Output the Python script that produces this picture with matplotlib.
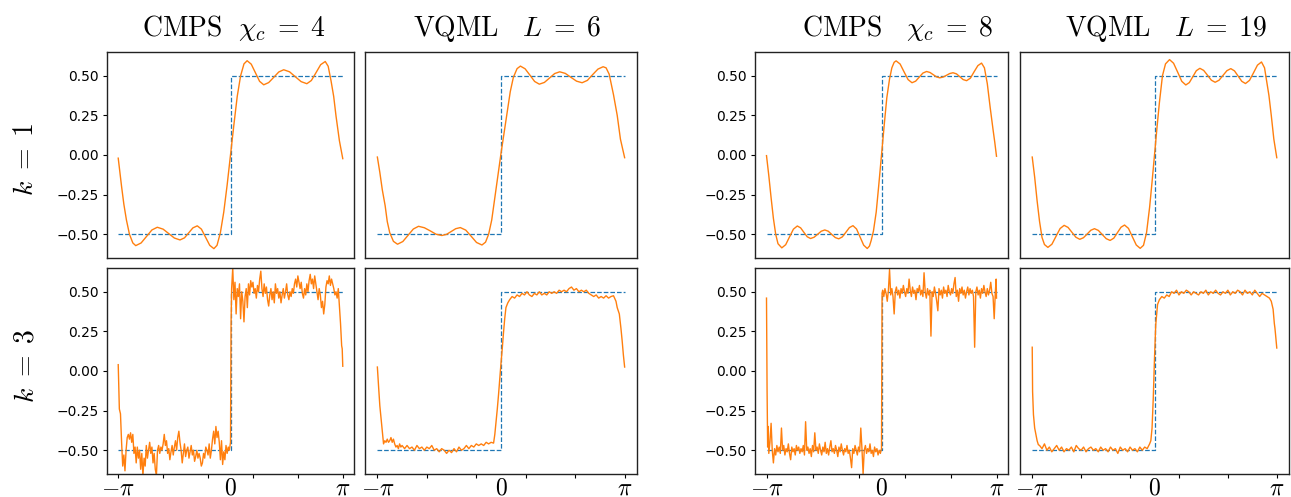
import numpy as np
import matplotlib
matplotlib.use('Agg')
import matplotlib.pyplot as plt

plt.rcParams['mathtext.fontset'] = 'cm'

# x values are in units of pi
step_x = [-1.0, 0.0, 0.0, 1.0]
step_y = [-0.5, -0.5, 0.5, 0.5]

titles = [r'$\mathrm{CMPS}\ \ \chi_c\;=\;4$', r'$\mathrm{VQML}\quad L\;=\;6$',
          r'$\mathrm{CMPS}\ \ \ \chi_c\;=\;8$', r'$\mathrm{VQML}\quad L\;=\;19$']
row_labels = [r'$k\;=\;1$', r'$k\;=\;3$']
ytick_vals = [-0.5, -0.25, 0.0, 0.25, 0.5]
xtick_labels = [r'$-\pi$', r'$0$', r'$\pi$']

cmps4_k1 = [(-1.0, -0.02), (-0.985, -0.11), (-0.97, -0.20), (-0.95, -0.31), (-0.927, -0.41),
            (-0.90, -0.50), (-0.87, -0.555), (-0.844, -0.572), (-0.796, -0.555), (-0.748, -0.514),
            (-0.70, -0.473), (-0.652, -0.456), (-0.60, -0.468), (-0.55, -0.496), (-0.50, -0.524),
            (-0.45, -0.536), (-0.41, -0.523), (-0.373, -0.492), (-0.335, -0.46), (-0.296, -0.447),
            (-0.259, -0.468), (-0.222, -0.519), (-0.185, -0.57), (-0.148, -0.591), (-0.12, -0.57),
            (-0.09, -0.49), (-0.06, -0.36), (-0.03, -0.19), (0.0, 0.0), (0.03, 0.19),
            (0.06, 0.37), (0.09, 0.50), (0.12, 0.575), (0.148, 0.595), (0.185, 0.573),
            (0.222, 0.519), (0.259, 0.465), (0.296, 0.443), (0.34, 0.457), (0.385, 0.49),
            (0.43, 0.524), (0.474, 0.538), (0.526, 0.525), (0.577, 0.494), (0.629, 0.463),
            (0.68, 0.45), (0.72, 0.47), (0.762, 0.52), (0.803, 0.57), (0.844, 0.59),
            (0.87, 0.56), (0.895, 0.47), (0.919, 0.37), (0.94, 0.245), (0.97, 0.09),
            (1.0, -0.023)]

vqml6_k1 = [(-1.0, -0.013), (-0.98, -0.11), (-0.96, -0.22), (-0.937, -0.32), (-0.92, -0.42),
            (-0.90, -0.49), (-0.87, -0.545), (-0.837, -0.563), (-0.794, -0.546), (-0.752, -0.507),
            (-0.709, -0.467), (-0.667, -0.45), (-0.62, -0.459), (-0.572, -0.479), (-0.525, -0.50),
            (-0.478, -0.508), (-0.441, -0.501), (-0.403, -0.483), (-0.366, -0.465), (-0.329, -0.458),
            (-0.285, -0.474), (-0.241, -0.513), (-0.198, -0.552), (-0.154, -0.568), (-0.125, -0.55),
            (-0.10, -0.50), (-0.075, -0.41), (-0.05, -0.27), (-0.025, -0.13), (0.0, 0.01),
            (0.025, 0.14), (0.05, 0.27), (0.075, 0.40), (0.10, 0.49), (0.13, 0.545),
            (0.157, 0.561), (0.195, 0.544), (0.234, 0.504), (0.272, 0.464), (0.31, 0.447),
            (0.351, 0.458), (0.393, 0.486), (0.434, 0.514), (0.475, 0.525), (0.52, 0.515),
            (0.566, 0.49), (0.611, 0.466), (0.656, 0.456), (0.699, 0.471), (0.741, 0.507),
            (0.784, 0.542), (0.826, 0.557), (0.85, 0.55), (0.875, 0.51), (0.91, 0.38),
            (0.94, 0.25), (0.966, 0.10), (1.0, -0.017)]

cmps8_k1 = [(-1.0, -0.004), (-0.98, -0.13), (-0.96, -0.27), (-0.94, -0.40), (-0.92, -0.50),
            (-0.90, -0.56), (-0.867, -0.586), (-0.833, -0.566), (-0.80, -0.517), (-0.766, -0.468),
            (-0.732, -0.448), (-0.703, -0.46), (-0.675, -0.488), (-0.646, -0.516), (-0.617, -0.527),
            (-0.586, -0.519), (-0.555, -0.50), (-0.524, -0.481), (-0.493, -0.473), (-0.463, -0.481),
            (-0.433, -0.501), (-0.402, -0.521), (-0.372, -0.529), (-0.341, -0.517), (-0.31, -0.488),
            (-0.279, -0.458), (-0.248, -0.446), (-0.217, -0.467), (-0.186, -0.518), (-0.155, -0.569),
            (-0.124, -0.59), (-0.105, -0.575), (-0.09, -0.54), (-0.07, -0.48), (-0.046, -0.36),
            (-0.025, -0.20), (0.0, 0.0), (0.025, 0.20), (0.046, 0.36), (0.07, 0.48),
            (0.09, 0.55), (0.11, 0.585), (0.127, 0.594), (0.162, 0.574), (0.196, 0.525),
            (0.231, 0.476), (0.265, 0.456), (0.297, 0.466), (0.329, 0.492), (0.36, 0.517),
            (0.392, 0.527), (0.421, 0.521), (0.45, 0.507), (0.478, 0.493), (0.507, 0.487),
            (0.536, 0.492), (0.565, 0.503), (0.593, 0.514), (0.622, 0.519), (0.652, 0.512),
            (0.681, 0.494), (0.71, 0.476), (0.74, 0.469), (0.773, 0.485), (0.805, 0.525),
            (0.838, 0.564), (0.87, 0.58), (0.895, 0.55), (0.92, 0.45), (0.945, 0.30),
            (0.97, 0.16), (0.985, 0.08), (1.0, -0.008)]

vqml19_k1 = [(-1.0, -0.013), (-0.98, -0.14), (-0.96, -0.29), (-0.94, -0.42), (-0.92, -0.52),
             (-0.90, -0.565), (-0.872, -0.583), (-0.839, -0.563), (-0.806, -0.514), (-0.772, -0.464),
             (-0.739, -0.444), (-0.707, -0.457), (-0.675, -0.488), (-0.643, -0.519), (-0.611, -0.532),
             (-0.581, -0.522), (-0.551, -0.499), (-0.521, -0.475), (-0.491, -0.465), (-0.459, -0.476),
             (-0.427, -0.502), (-0.395, -0.528), (-0.363, -0.539), (-0.333, -0.525), (-0.304, -0.491),
             (-0.274, -0.456), (-0.245, -0.442), (-0.213, -0.463), (-0.181, -0.516), (-0.149, -0.568),
             (-0.117, -0.589), (-0.09, -0.57), (-0.065, -0.49), (-0.04, -0.33), (-0.02, -0.17),
             (0.0, 0.0), (0.02, 0.17), (0.04, 0.33), (0.065, 0.50), (0.09, 0.575),
             (0.123, 0.602), (0.156, 0.579), (0.19, 0.522), (0.223, 0.465), (0.256, 0.442),
             (0.285, 0.457), (0.314, 0.495), (0.342, 0.532), (0.371, 0.547), (0.402, 0.534),
             (0.434, 0.503), (0.465, 0.472), (0.496, 0.459), (0.528, 0.472), (0.56, 0.502),
             (0.592, 0.532), (0.624, 0.545), (0.654, 0.531), (0.684, 0.498), (0.714, 0.465),
             (0.744, 0.451), (0.777, 0.471), (0.81, 0.519), (0.842, 0.567), (0.875, 0.587),
             (0.90, 0.55), (0.936, 0.375), (0.955, 0.25), (0.976, 0.10), (1.0, -0.017)]

cmps4_k3 = [(-1.00, 0.04), (-0.99, -0.24), (-0.98, -0.27), (-0.97, -0.45), (-0.96, -0.60),
            (-0.95, -0.53), (-0.94, -0.63), (-0.93, -0.50), (-0.92, -0.42), (-0.91, -0.40),
            (-0.90, -0.43), (-0.89, -0.39), (-0.88, -0.45), (-0.87, -0.40), (-0.86, -0.52),
            (-0.85, -0.48), (-0.84, -0.58), (-0.83, -0.48), (-0.82, -0.55), (-0.81, -0.50),
            (-0.80, -0.62), (-0.79, -0.52), (-0.78, -0.66), (-0.77, -0.55), (-0.76, -0.60),
            (-0.75, -0.47), (-0.74, -0.55), (-0.73, -0.50), (-0.72, -0.45), (-0.71, -0.52),
            (-0.70, -0.48), (-0.69, -0.58), (-0.68, -0.52), (-0.67, -0.62), (-0.66, -0.66),
            (-0.65, -0.50), (-0.64, -0.47), (-0.63, -0.52), (-0.62, -0.48), (-0.61, -0.50),
            (-0.60, -0.46), (-0.59, -0.40), (-0.58, -0.47), (-0.57, -0.44), (-0.56, -0.52),
            (-0.55, -0.49), (-0.54, -0.56), (-0.53, -0.51), (-0.52, -0.47), (-0.51, -0.53),
            (-0.50, -0.48), (-0.49, -0.44), (-0.48, -0.50), (-0.47, -0.42), (-0.46, -0.38),
            (-0.45, -0.45), (-0.44, -0.50), (-0.43, -0.58), (-0.42, -0.52), (-0.41, -0.46),
            (-0.40, -0.54), (-0.39, -0.50), (-0.38, -0.48), (-0.37, -0.55), (-0.36, -0.51),
            (-0.35, -0.47), (-0.34, -0.53), (-0.33, -0.50), (-0.32, -0.57), (-0.31, -0.54),
            (-0.30, -0.50), (-0.29, -0.55), (-0.28, -0.52), (-0.27, -0.55), (-0.26, -0.60),
            (-0.25, -0.58), (-0.24, -0.52), (-0.23, -0.55), (-0.22, -0.48), (-0.21, -0.50),
            (-0.20, -0.53), (-0.19, -0.46), (-0.18, -0.55), (-0.17, -0.50), (-0.16, -0.43),
            (-0.15, -0.38), (-0.14, -0.46), (-0.13, -0.35), (-0.12, -0.42), (-0.11, -0.38),
            (-0.10, -0.45), (-0.09, -0.56), (-0.08, -0.44), (-0.07, -0.59), (-0.06, -0.51),
            (-0.05, -0.56), (-0.04, -0.47), (-0.03, -0.52), (-0.02, -0.48), (-0.01, -0.50),
            (0.00, -0.45), (0.005, 0.30), (0.01, 0.52), (0.02, 0.65), (0.03, 0.45),
            (0.04, 0.56), (0.05, 0.36), (0.06, 0.52), (0.07, 0.47), (0.08, 0.55),
            (0.09, 0.33), (0.10, 0.50), (0.11, 0.44), (0.12, 0.31), (0.13, 0.47),
            (0.14, 0.52), (0.15, 0.40), (0.16, 0.55), (0.17, 0.48), (0.18, 0.57),
            (0.19, 0.53), (0.20, 0.56), (0.21, 0.49), (0.22, 0.52), (0.23, 0.46),
            (0.24, 0.54), (0.25, 0.50), (0.26, 0.58), (0.27, 0.63), (0.28, 0.52),
            (0.29, 0.47), (0.30, 0.55), (0.31, 0.49), (0.32, 0.53), (0.33, 0.45),
            (0.34, 0.41), (0.35, 0.48), (0.36, 0.52), (0.37, 0.45), (0.38, 0.50),
            (0.39, 0.43), (0.40, 0.55), (0.41, 0.49), (0.42, 0.52), (0.43, 0.46),
            (0.44, 0.50), (0.45, 0.43), (0.46, 0.48), (0.47, 0.52), (0.48, 0.46),
            (0.49, 0.50), (0.50, 0.55), (0.51, 0.48), (0.52, 0.45), (0.53, 0.50),
            (0.54, 0.47), (0.55, 0.52), (0.56, 0.49), (0.57, 0.55), (0.58, 0.58),
            (0.59, 0.53), (0.60, 0.60), (0.61, 0.56), (0.62, 0.52), (0.63, 0.56),
            (0.64, 0.49), (0.65, 0.46), (0.66, 0.52), (0.67, 0.48), (0.68, 0.55),
            (0.69, 0.50), (0.70, 0.57), (0.71, 0.61), (0.72, 0.55), (0.73, 0.58),
            (0.74, 0.52), (0.75, 0.60), (0.76, 0.55), (0.77, 0.50), (0.78, 0.45),
            (0.79, 0.52), (0.80, 0.48), (0.81, 0.40), (0.82, 0.44), (0.83, 0.36),
            (0.84, 0.42), (0.85, 0.53), (0.86, 0.57), (0.87, 0.55), (0.88, 0.60),
            (0.89, 0.54), (0.90, 0.58), (0.91, 0.55), (0.92, 0.52), (0.93, 0.48),
            (0.94, 0.50), (0.95, 0.46), (0.96, 0.52), (0.97, 0.41), (0.98, 0.30),
            (0.99, 0.16), (0.995, 0.14), (1.00, 0.03)]

vqml6_k3 = [(-1.00, 0.025), (-0.99, -0.10), (-0.98, -0.22), (-0.97, -0.30), (-0.96, -0.38),
            (-0.95, -0.46), (-0.94, -0.44), (-0.93, -0.45), (-0.92, -0.43), (-0.91, -0.45),
            (-0.90, -0.44), (-0.89, -0.42), (-0.88, -0.45), (-0.87, -0.43), (-0.86, -0.46),
            (-0.85, -0.48), (-0.84, -0.47), (-0.83, -0.49), (-0.82, -0.46), (-0.81, -0.48),
            (-0.80, -0.47), (-0.78, -0.49), (-0.76, -0.47), (-0.74, -0.49), (-0.72, -0.48),
            (-0.70, -0.50), (-0.68, -0.47), (-0.66, -0.49), (-0.64, -0.48), (-0.62, -0.50),
            (-0.60, -0.48), (-0.58, -0.49), (-0.56, -0.47), (-0.54, -0.50), (-0.52, -0.49),
            (-0.50, -0.51), (-0.48, -0.49), (-0.46, -0.50), (-0.44, -0.52), (-0.42, -0.50),
            (-0.40, -0.515), (-0.38, -0.49), (-0.36, -0.51), (-0.34, -0.48), (-0.32, -0.50),
            (-0.30, -0.49), (-0.28, -0.47), (-0.26, -0.49), (-0.24, -0.47), (-0.22, -0.48),
            (-0.20, -0.46), (-0.18, -0.47), (-0.16, -0.46), (-0.14, -0.47), (-0.12, -0.45),
            (-0.10, -0.46), (-0.08, -0.45), (-0.06, -0.455), (-0.05, -0.40), (-0.04, -0.32),
            (-0.03, -0.24), (-0.02, -0.15), (-0.01, -0.05), (0.00, 0.05), (0.01, 0.14),
            (0.02, 0.24), (0.03, 0.33), (0.04, 0.40), (0.055, 0.43), (0.07, 0.45),
            (0.09, 0.47), (0.11, 0.46), (0.13, 0.48), (0.15, 0.47), (0.17, 0.49),
            (0.19, 0.48), (0.21, 0.50), (0.23, 0.48), (0.25, 0.47), (0.27, 0.49),
            (0.29, 0.48), (0.31, 0.50), (0.33, 0.48), (0.35, 0.49), (0.37, 0.48),
            (0.39, 0.50), (0.41, 0.49), (0.43, 0.50), (0.45, 0.49), (0.47, 0.51),
            (0.49, 0.50), (0.51, 0.51), (0.53, 0.50), (0.55, 0.52), (0.57, 0.53),
            (0.59, 0.51), (0.61, 0.52), (0.63, 0.50), (0.65, 0.51), (0.67, 0.50),
            (0.69, 0.51), (0.71, 0.49), (0.73, 0.48), (0.75, 0.47), (0.77, 0.48),
            (0.79, 0.46), (0.81, 0.47), (0.83, 0.46), (0.85, 0.475), (0.87, 0.46),
            (0.89, 0.47), (0.91, 0.475), (0.93, 0.44), (0.94, 0.40), (0.957, 0.36),
            (0.97, 0.27), (0.98, 0.19), (0.99, 0.10), (1.00, 0.025)]

cmps8_k3 = [(-1.0, 0.46), (-0.995, -0.12), (-0.99, -0.48), (-0.985, -0.35), (-0.98, -0.52),
            (-0.97, -0.45), (-0.96, -0.33), (-0.95, -0.50), (-0.94, -0.58), (-0.93, -0.49),
            (-0.92, -0.53), (-0.91, -0.47), (-0.90, -0.51), (-0.89, -0.48), (-0.88, -0.52),
            (-0.87, -0.36), (-0.86, -0.50), (-0.85, -0.47), (-0.84, -0.53), (-0.83, -0.49),
            (-0.82, -0.51), (-0.81, -0.46), (-0.80, -0.52), (-0.79, -0.56), (-0.78, -0.48),
            (-0.77, -0.51), (-0.76, -0.49), (-0.75, -0.53), (-0.74, -0.47), (-0.73, -0.50),
            (-0.72, -0.48), (-0.71, -0.52), (-0.70, -0.49), (-0.69, -0.51), (-0.68, -0.47),
            (-0.67, -0.53), (-0.66, -0.32), (-0.65, -0.50), (-0.64, -0.48), (-0.63, -0.52),
            (-0.62, -0.49), (-0.61, -0.54), (-0.60, -0.47), (-0.59, -0.51), (-0.58, -0.39),
            (-0.57, -0.50), (-0.56, -0.48), (-0.55, -0.52), (-0.54, -0.46), (-0.53, -0.50),
            (-0.52, -0.53), (-0.51, -0.48), (-0.50, -0.51), (-0.49, -0.45), (-0.48, -0.52),
            (-0.47, -0.49), (-0.46, -0.53), (-0.45, -0.48), (-0.44, -0.44), (-0.43, -0.51),
            (-0.42, -0.49), (-0.41, -0.52), (-0.40, -0.47), (-0.39, -0.50), (-0.38, -0.54),
            (-0.37, -0.48), (-0.36, -0.51), (-0.35, -0.46), (-0.34, -0.50), (-0.33, -0.53),
            (-0.32, -0.49), (-0.31, -0.51), (-0.30, -0.47), (-0.29, -0.52), (-0.28, -0.50),
            (-0.27, -0.55), (-0.26, -0.61), (-0.25, -0.49), (-0.24, -0.52), (-0.23, -0.47),
            (-0.22, -0.50), (-0.21, -0.53), (-0.20, -0.48), (-0.19, -0.51), (-0.18, -0.36),
            (-0.17, -0.49), (-0.16, -0.65), (-0.15, -0.50), (-0.14, -0.47), (-0.13, -0.52),
            (-0.12, -0.49), (-0.11, -0.51), (-0.10, -0.46), (-0.09, -0.52), (-0.08, -0.50),
            (-0.07, -0.54), (-0.06, -0.48), (-0.05, -0.51), (-0.04, -0.49), (-0.03, -0.53),
            (-0.02, -0.50), (-0.01, -0.52), (0.00, -0.49), (0.005, 0.49), (0.01, 0.51),
            (0.02, 0.47), (0.03, 0.52), (0.04, 0.49), (0.05, 0.44), (0.06, 0.51),
            (0.07, 0.64), (0.08, 0.48), (0.09, 0.52), (0.10, 0.47), (0.11, 0.36),
            (0.12, 0.50), (0.13, 0.53), (0.14, 0.48), (0.15, 0.51), (0.16, 0.46),
            (0.17, 0.52), (0.18, 0.49), (0.19, 0.54), (0.20, 0.50), (0.21, 0.47),
            (0.22, 0.52), (0.23, 0.49), (0.24, 0.58), (0.25, 0.51), (0.26, 0.47),
            (0.27, 0.53), (0.28, 0.49), (0.29, 0.51), (0.30, 0.45), (0.31, 0.52),
            (0.32, 0.50), (0.33, 0.54), (0.34, 0.48), (0.35, 0.51), (0.36, 0.47),
            (0.37, 0.62), (0.38, 0.50), (0.39, 0.46), (0.40, 0.52), (0.41, 0.48),
            (0.42, 0.51), (0.43, 0.22), (0.44, 0.50), (0.45, 0.47), (0.46, 0.53),
            (0.47, 0.49), (0.48, 0.44), (0.49, 0.38), (0.50, 0.52), (0.51, 0.48),
            (0.52, 0.51), (0.53, 0.46), (0.54, 0.53), (0.55, 0.49), (0.56, 0.51),
            (0.57, 0.47), (0.58, 0.54), (0.59, 0.50), (0.60, 0.48), (0.61, 0.52),
            (0.62, 0.49), (0.63, 0.55), (0.64, 0.59), (0.65, 0.47), (0.66, 0.51),
            (0.67, 0.44), (0.68, 0.52), (0.69, 0.49), (0.70, 0.53), (0.71, 0.48),
            (0.72, 0.51), (0.73, 0.46), (0.74, 0.50), (0.75, 0.53), (0.76, 0.48),
            (0.77, 0.52), (0.78, 0.49), (0.79, 0.51), (0.80, 0.47), (0.81, 0.15),
            (0.82, 0.50), (0.83, 0.53), (0.84, 0.48), (0.85, 0.51), (0.86, 0.46),
            (0.87, 0.52), (0.88, 0.49), (0.89, 0.54), (0.90, 0.50), (0.91, 0.47),
            (0.92, 0.52), (0.93, 0.48), (0.94, 0.51), (0.95, 0.56), (0.96, 0.49),
            (0.97, 0.47), (0.98, 0.33), (0.99, 0.50), (0.997, 0.58), (1.00, 0.46)]

vqml19_k3 = [(-1.0, 0.15), (-0.997, -0.13), (-0.99, -0.275), (-0.98, -0.36), (-0.96, -0.44),
             (-0.95, -0.465), (-0.94, -0.47), (-0.92, -0.49), (-0.90, -0.46), (-0.88, -0.50),
             (-0.86, -0.48), (-0.84, -0.51), (-0.82, -0.49), (-0.80, -0.47), (-0.78, -0.50),
             (-0.76, -0.48), (-0.74, -0.51), (-0.72, -0.49), (-0.70, -0.50), (-0.68, -0.48),
             (-0.66, -0.51), (-0.64, -0.47), (-0.62, -0.49), (-0.60, -0.50), (-0.58, -0.48),
             (-0.56, -0.51), (-0.54, -0.49), (-0.52, -0.48), (-0.50, -0.50), (-0.48, -0.49),
             (-0.46, -0.51), (-0.44, -0.48), (-0.42, -0.50), (-0.40, -0.49), (-0.38, -0.51),
             (-0.36, -0.48), (-0.34, -0.50), (-0.32, -0.49), (-0.30, -0.52), (-0.28, -0.48),
             (-0.26, -0.50), (-0.24, -0.49), (-0.22, -0.51), (-0.20, -0.48), (-0.18, -0.50),
             (-0.16, -0.49), (-0.14, -0.51), (-0.12, -0.48), (-0.10, -0.50), (-0.08, -0.48),
             (-0.06, -0.49), (-0.04, -0.46), (-0.03, -0.44), (-0.02, -0.36), (-0.01, -0.17),
             (0.0, 0.08), (0.01, 0.29), (0.025, 0.42), (0.04, 0.45), (0.06, 0.47),
             (0.08, 0.46), (0.10, 0.48), (0.12, 0.47), (0.14, 0.50), (0.16, 0.49),
             (0.18, 0.51), (0.20, 0.48), (0.22, 0.50), (0.24, 0.49), (0.26, 0.51),
             (0.28, 0.50), (0.30, 0.48), (0.32, 0.50), (0.34, 0.49), (0.36, 0.48),
             (0.38, 0.50), (0.40, 0.49), (0.42, 0.51), (0.44, 0.48), (0.46, 0.50),
             (0.48, 0.49), (0.50, 0.51), (0.52, 0.49), (0.54, 0.48), (0.56, 0.50),
             (0.58, 0.49), (0.60, 0.51), (0.62, 0.48), (0.64, 0.50), (0.66, 0.49),
             (0.68, 0.51), (0.70, 0.50), (0.72, 0.48), (0.74, 0.51), (0.76, 0.49),
             (0.78, 0.50), (0.80, 0.48), (0.82, 0.51), (0.84, 0.49), (0.86, 0.47),
             (0.88, 0.49), (0.90, 0.48), (0.92, 0.47), (0.94, 0.46), (0.955, 0.44),
             (0.97, 0.39), (0.98, 0.30), (0.985, 0.27), (0.99, 0.23), (1.00, 0.145)]

curves = [[cmps4_k1, vqml6_k1, cmps8_k1, vqml19_k1],
          [cmps4_k3, vqml6_k3, cmps8_k3, vqml19_k3]]

# panel boxes measured in pixels: (left, right), (top, bottom)
W, H = 1291, 497
col_px = [(107, 354), (365, 637), (755, 1008), (1020, 1289)]
row_px = [(52, 258), (268, 474)]
title_cx = [234, 507, 898, 1166]
row_cy = [159, 366]

fig = plt.figure(figsize=(W / 100, H / 100), dpi=100)

for r in range(2):
    for c in range(4):
        l, rr = col_px[c]
        t, b = row_px[r]
        ax = fig.add_axes([l / W, 1 - b / H, (rr - l) / W, (b - t) / H])
        pts = curves[r][c]
        xs = np.array([p[0] for p in pts]) * np.pi
        ys = np.array([p[1] for p in pts])
        ax.plot(np.array(step_x) * np.pi, step_y, color='#1f77b4', lw=0.9, ls='--')
        ax.plot(xs, ys, color='#ff7f0e', lw=1.0)
        ax.set_ylim(-0.65, 0.65)
        for sp in ax.spines.values():
            sp.set_color('#222222')
            sp.set_linewidth(1.0)
        if c in (0, 2):
            ax.set_yticks(ytick_vals)
            ax.tick_params(axis='y', labelsize=10, length=3, pad=3)
        else:
            ax.set_yticks([])
        if r == 0:
            ax.set_xticks([])
        else:
            ax.xaxis.remove_overlapping_locs = False
            ax.set_xticks(np.linspace(-np.pi, np.pi, 6))
            ax.set_xticklabels([])
            ax.set_xticks([-np.pi, 0, np.pi], minor=True)
            ax.set_xticklabels(xtick_labels, minor=True)
            ax.tick_params(axis='x', which='major', length=3)
            ax.tick_params(axis='x', which='minor', length=0, labelsize=17, pad=1)
        if r == 0:
            fig.text(title_cx[c] / W, 1 - 36 / H, titles[c], fontsize=20,
                     ha='center', va='baseline')

for r in range(2):
    fig.text(25 / W, 1 - row_cy[r] / H, row_labels[r], fontsize=20,
             rotation=90, ha='center', va='center')

fig.savefig('out.png', dpi=100)
